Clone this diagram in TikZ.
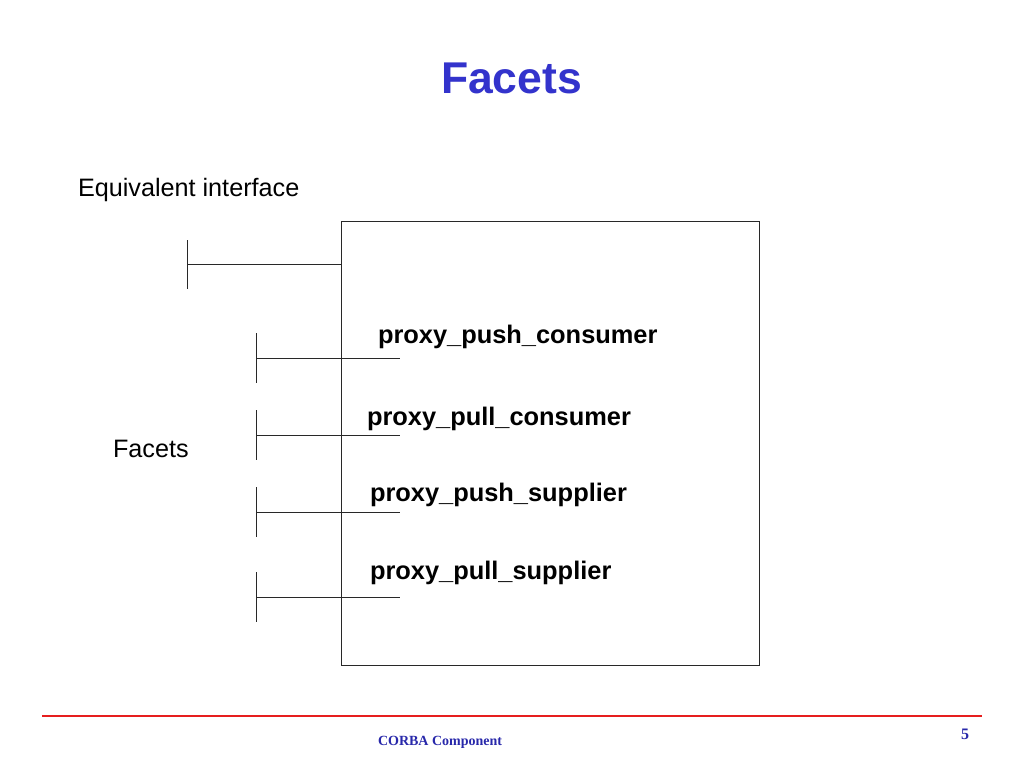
\documentclass[tikz,border=0pt]{standalone}
\usepackage{fontspec}
\setmainfont{Liberation Sans}
\newfontfamily\footfont{Liberation Serif}
\definecolor{titleblue}{RGB}{51,51,204}
\definecolor{footblue}{RGB}{40,40,170}
\definecolor{linegray}{RGB}{40,40,40}
\definecolor{rulered}{RGB}{230,30,30}
\begin{document}
\begin{tikzpicture}[x=1pt,y=-1pt,
  txt/.style={anchor=base west,inner sep=0pt,outer sep=0pt},
  facetlabel/.style={txt,font=\fontsize{25.4}{30}\selectfont\bfseries},
  plainlabel/.style={txt,font=\fontsize{25.2}{30}\selectfont},
  conn/.style={draw=linegray,line width=1pt},
  compbox/.style={draw=linegray,line width=1pt,inner sep=0pt,minimum width=418pt,minimum height=444pt,anchor=north west}]
\useasboundingbox (0,0) rectangle (1024,768);
% title
\node[txt,font=\fontsize{44.5}{50}\selectfont\bfseries,text=titleblue] (title) at (441,93) {Facets};
% component box
\node[compbox] (comp) at (341,221) {};
% equivalent interface
\node[plainlabel] (eqlab) at (78,196) {Equivalent interface};
\coordinate (eqtop) at (187,240);
\coordinate (eqbot) at (187,289);
\coordinate (eqj) at (187,264);
\coordinate (eqend) at (341,264);
\draw[conn] (eqtop) -- (eqbot);
\draw[conn] (eqj) -- (eqend);
% facets label
\node[plainlabel] (faclab) at (113,457) {Facets};
% facet lollipops
\foreach \n/\y in {a/358,b/435,c/512,d/597}{
  \coordinate (t\n) at (256,\y-25);
  \coordinate (b\n) at (256,\y+25);
  \coordinate (j\n) at (256,\y);
  \coordinate (e\n) at (400,\y);
  \draw[conn] (t\n) -- (b\n);
  \draw[conn] (j\n) -- (e\n);
}
\node[facetlabel] (fa) at (378,343) {proxy\_push\_consumer};
\node[facetlabel] (fb) at (367,425) {proxy\_pull\_consumer};
\node[facetlabel] (fc) at (370,501) {proxy\_push\_supplier};
\node[facetlabel] (fd) at (370,579) {proxy\_pull\_supplier};
% footer
\coordinate (rl) at (42,716);
\coordinate (rr) at (982,716);
\draw[draw=rulered,line width=1.5pt] (rl) -- (rr);
\node[txt,font=\footfont\fontsize{14}{16}\selectfont\bfseries,text=footblue] (foot) at (378,745) {CORBA Component};
\node[txt,font=\footfont\fontsize{16}{18}\selectfont\bfseries,text=footblue] (pg) at (961,739) {5};
\end{tikzpicture}
\end{document}
